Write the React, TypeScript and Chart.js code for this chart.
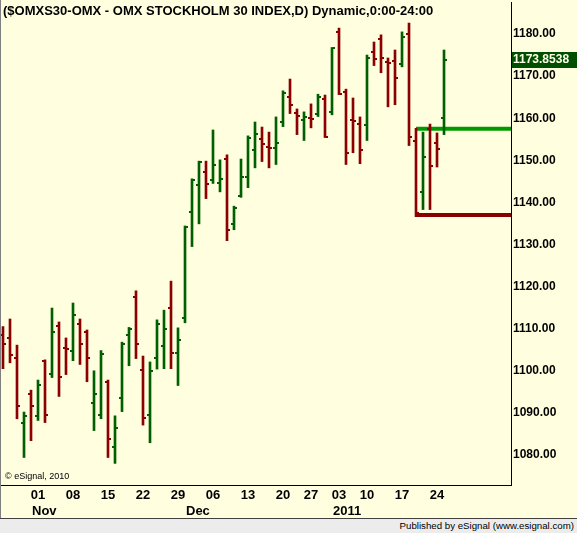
import React, { useEffect, useRef } from 'react';
import { Chart, registerables } from 'chart.js';

Chart.register(...registerables);

// Daily OHLC, OMXS30, 25 Oct 2010 .. 25 Jan 2011 (one entry per trading day)
const openP = [
  1108.5, 1107.9, 1103.1, 1087.7, 1094.6, 1089.3, 1102.3, 1099.3, 1110.7, 1105.5,
  1104.8, 1111.2, 1109.3, 1092.4, 1089.6, 1097.4, 1082.0, 1093.6, 1108.6, 1117.6,
  1100.3, 1089.6, 1103.1, 1106.0, 1115.0, 1104.3, 1112.6, 1137.8, 1144.2, 1147.2,
  1145.4, 1144.7, 1150.4, 1134.9, 1141.4, 1146.1, 1152.4, 1155.0, 1153.2, 1153.0,
  1159.2, 1165.1, 1161.3, 1159.6, 1160.0, 1161.1, 1164.6, 1161.5, 1180.5, 1166.3,
  1159.6, 1158.7, 1158.5, 1175.8, 1178.9, 1173.4, 1173.7, 1172.9, 1180.1, 1154.7,
  1142.5, 1157.4, 1154.2, 1160.1,
];
const highP = [
  1110.5, 1112.3, 1106.1, 1090.2, 1095.4, 1097.8, 1102.6, 1114.9, 1111.6, 1107.8,
  1116.1, 1112.3, 1109.7, 1100.0, 1104.8, 1097.8, 1089.3, 1106.8, 1110.3, 1119.0,
  1103.5, 1102.1, 1112.1, 1114.4, 1121.3, 1110.2, 1134.4, 1145.6, 1149.8, 1149.8,
  1157.2, 1150.1, 1151.3, 1139.1, 1150.3, 1155.8, 1159.1, 1157.9, 1156.7, 1160.3,
  1166.5, 1169.3, 1162.2, 1161.5, 1163.4, 1165.7, 1165.5, 1176.8, 1181.4, 1166.9,
  1164.8, 1160.3, 1175.0, 1178.1, 1179.8, 1174.3, 1176.2, 1180.5, 1182.6, 1157.6,
  1156.7, 1158.6, 1156.5, 1176.2,
];
const lowP = [
  1100.5, 1101.9, 1088.6, 1079.4, 1083.4, 1088.2, 1087.7, 1098.4, 1093.9, 1099.1,
  1102.4, 1101.5, 1097.4, 1085.8, 1088.6, 1079.4, 1078.0, 1090.3, 1101.2, 1102.9,
  1087.1, 1082.9, 1100.4, 1100.5, 1100.5, 1096.5, 1111.4, 1129.5, 1134.9, 1140.9,
  1144.5, 1142.5, 1130.9, 1133.5, 1141.2, 1143.5, 1148.2, 1149.7, 1148.2, 1149.0,
  1158.0, 1161.1, 1156.1, 1154.7, 1157.7, 1160.4, 1155.4, 1160.8, 1165.6, 1149.0,
  1151.8, 1149.2, 1154.7, 1172.5, 1170.8, 1162.7, 1163.2, 1172.2, 1153.5, 1136.6,
  1138.3, 1138.3, 1148.4, 1156.1,
];
const closeP = [
  1106.4, 1103.8, 1091.7, 1089.3, 1091.7, 1096.7, 1089.6, 1109.3, 1098.6, 1105.2,
  1113.3, 1106.4, 1103.1, 1094.6, 1104.1, 1083.9, 1086.5, 1106.4, 1110.0, 1106.4,
  1088.8, 1100.0, 1111.2, 1110.0, 1104.3, 1107.2, 1134.2, 1145.2, 1149.7, 1144.4,
  1149.0, 1145.6, 1133.5, 1138.7, 1146.1, 1155.4, 1156.3, 1153.9, 1152.9, 1154.2,
  1166.1, 1163.2, 1160.6, 1160.4, 1159.8, 1165.1, 1155.6, 1176.7, 1165.8, 1151.8,
  1159.4, 1152.5, 1174.4, 1174.1, 1174.4, 1173.2, 1169.6, 1179.4, 1155.6, 1137.5,
  1150.9, 1148.7, 1152.8, 1173.8538,
];

// X axis: index of the trading day each label belongs to
const dayTickIdx = [5, 10, 15, 20, 25, 30, 35, 40, 44, 48, 52, 57, 62];
const dayTickLabels = ['01', '08', '15', '22', '29', '06', '13', '20', '27', '03', '10', '17', '24'];
const monthTickIdx = [5, 27, 48];
const monthTickLabels = ['Nov', 'Dec', '2011'];

// Y axis
const yTickValues = [1080, 1090, 1100, 1110, 1120, 1130, 1140, 1150, 1160, 1170, 1180];

// Range lines (drawn from the bar of 21 Jan)
const rangeStartIdx = 59;
const rangeHigh = 1157.5;
const rangeLow = 1137.0;

const titleText = '($OMXS30-OMX - OMX STOCKHOLM 30 INDEX,D) Dynamic,0:00-24:00';
const lastPriceText = '1173.8538';

const X_MIN = -2 / 7;
const X_MAX = 72.57;
const Y_MIN = 1072.87;
const Y_MAX = 1187.6;

const UP = '#005f00';
const DOWN = '#8b0000';
const FAMILY = '"Liberation Sans", Arial, sans-serif';

const ohlcPlugin = {
  id: 'ohlcExtras',
  afterDatasetsDraw(chart: any) {
    const xs = chart.scales.x;
    const ys = chart.scales.y;
    const ctx = chart.ctx;
    const { left, right, top, bottom } = chart.chartArea;
    ctx.save();
    ctx.beginPath();
    ctx.rect(left, top, right - left, bottom - top);
    ctx.clip();
    for (let i = 0; i < closeP.length; i++) {
      const x = Math.round(xs.getPixelForValue(i));
      const yo = Math.round(ys.getPixelForValue(openP[i]));
      const yc = Math.round(ys.getPixelForValue(closeP[i]));
      ctx.fillStyle = closeP[i] >= openP[i] ? UP : DOWN;
      ctx.fillRect(x - 3, yo - 1, 2, 2);
      ctx.fillRect(x + 1, yc - 1, 2, 2);
    }
    ctx.restore();
  },
  afterDraw(chart: any) {
    const ys = chart.scales.y;
    const ctx = chart.ctx;
    ctx.save();
    // left frame line
    ctx.fillStyle = '#808080';
    ctx.fillRect(0, 0, 1, chart.height);
    // title
    ctx.fillStyle = '#000';
    ctx.font = `bold 13px ${FAMILY}`;
    ctx.textBaseline = 'alphabetic';
    ctx.textAlign = 'left';
    ctx.fillText(titleText, 3, 15);
    // copyright
    ctx.font = `9px ${FAMILY}`;
    ctx.fillText('\u00a9 eSignal, 2010', 5, 479);
    // last price box
    const yc = Math.round(ys.getPixelForValue(closeP[closeP.length - 1]));
    ctx.fillStyle = '#004f00';
    ctx.fillRect(512, yc - 8, 65, 16);
    ctx.fillStyle = '#ffffe8';
    ctx.font = `bold 12px ${FAMILY}`;
    ctx.textBaseline = 'middle';
    ctx.fillText(lastPriceText, 513, yc);
    ctx.restore();
  },
};

export default function App() {
  const ref = useRef<HTMLCanvasElement>(null);

  useEffect(() => {
    if (!ref.current) return;
    const barData = closeP.map((_, i) => ({ x: i, y: [lowP[i], highP[i]] }));
    const barColors = closeP.map((c, i) => (c >= openP[i] ? UP : DOWN));

    const chart = new Chart(ref.current, {
      type: 'bar',
      data: {
        datasets: [
          {
            type: 'bar',
            data: barData as any,
            backgroundColor: barColors,
            borderWidth: 0,
            barThickness: 2,
            xAxisID: 'x',
            yAxisID: 'y',
            order: 0,
          },
          {
            type: 'line',
            data: [
              { x: rangeStartIdx, y: rangeHigh },
              { x: X_MAX, y: rangeHigh },
            ],
            borderColor: '#009a00',
            borderWidth: 4,
            pointRadius: 0,
            xAxisID: 'x',
            yAxisID: 'y',
            order: 1,
          },
          {
            type: 'line',
            data: [
              { x: rangeStartIdx, y: rangeLow },
              { x: X_MAX, y: rangeLow },
            ],
            borderColor: '#880000',
            borderWidth: 4,
            pointRadius: 0,
            xAxisID: 'x',
            yAxisID: 'y',
            order: 1,
          },
        ] as any,
      },
      options: {
        animation: false,
        responsive: false,
        devicePixelRatio: 1,
        layout: { padding: { left: 1, top: 2, right: 0, bottom: 0 } },
        plugins: {
          legend: { display: false },
          tooltip: { enabled: false },
          title: { display: false },
        },
        scales: {
          x: {
            type: 'linear',
            position: 'bottom',
            weight: 0,
            min: X_MIN,
            max: X_MAX,
            offset: false,
            bounds: 'data',
            grid: { display: false, drawTicks: false },
            border: { display: true, color: '#000', width: 1 },
            ticks: {
              autoSkip: false,
              maxRotation: 0,
              minRotation: 0,
              padding: 3,
              color: '#000',
              font: { family: FAMILY, size: 13, weight: 'bold' },
              callback: (_v: any, idx: number) => dayTickLabels[idx],
            },
            afterBuildTicks: (s: any) => {
              s.ticks = dayTickIdx.map((v) => ({ value: v }));
            },
            afterFit: (s: any) => {
              s.height = 17;
              s.paddingLeft = 0;
              s.paddingRight = 0;
            },
          },
          xm: {
            type: 'linear',
            position: 'bottom',
            weight: 1,
            min: X_MIN,
            max: X_MAX,
            offset: false,
            bounds: 'data',
            grid: { display: false, drawTicks: false },
            border: { display: false },
            ticks: {
              autoSkip: false,
              maxRotation: 0,
              minRotation: 0,
              padding: 2,
              align: 'start',
              labelOffset: -6,
              color: '#000',
              font: { family: FAMILY, size: 13, weight: 'bold' },
              callback: (_v: any, idx: number) => monthTickLabels[idx],
            },
            afterBuildTicks: (s: any) => {
              s.ticks = monthTickIdx.map((v) => ({ value: v }));
            },
            afterFit: (s: any) => {
              s.height = 16;
              s.paddingLeft = 0;
              s.paddingRight = 0;
            },
          },
          y: {
            type: 'linear',
            position: 'right',
            min: Y_MIN,
            max: Y_MAX,
            bounds: 'data',
            grid: { display: false, drawTicks: false },
            border: { display: true, color: '#000', width: 1 },
            ticks: {
              autoSkip: false,
              padding: 2,
              color: '#000',
              font: { family: FAMILY, size: 12, weight: 'bold' },
              callback: (v: any) => Number(v).toFixed(2),
            },
            afterBuildTicks: (s: any) => {
              s.ticks = yTickValues.map((v) => ({ value: v }));
            },
            afterFit: (s: any) => {
              s.width = 66;
              s.paddingTop = 0;
              s.paddingBottom = 0;
            },
          },
        },
      } as any,
      plugins: [ohlcPlugin],
    });
    return () => chart.destroy();
  }, []);

  return (
    <div
      style={{
        position: 'absolute',
        left: 0,
        top: 0,
        width: 577,
        height: 533,
        background: '#ffffe0',
        overflow: 'hidden',
      }}
    >
      <canvas ref={ref} width={577} height={518} style={{ display: 'block', width: 577, height: 518 }} />
      <div
        style={{
          position: 'absolute',
          left: 0,
          top: 518,
          width: 577,
          height: 15,
          boxSizing: 'border-box',
          borderTop: '1px solid #404040',
          background: '#ececec',
          font: `9.7px ${FAMILY}`,
          color: '#000',
          textAlign: 'right',
          paddingRight: 3,
          lineHeight: '14px',
          whiteSpace: 'nowrap',
        }}
      >
        Published by eSignal (www.esignal.com)
      </div>
    </div>
  );
}
